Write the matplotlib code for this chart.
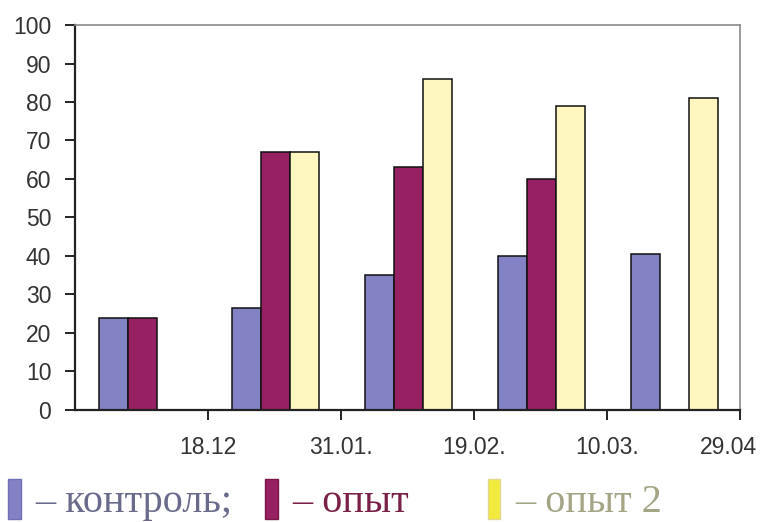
import numpy as np
import matplotlib.pyplot as plt
import matplotlib.transforms as mtransforms
from matplotlib.patches import Rectangle

# данные
dates = ['18.12', '31.01.', '19.02.', '10.03.', '29.04']
control = [24, 26.5, 35, 40, 40.5]
opyt = [24, 67, 63, 60, np.nan]
opyt2 = [np.nan, 67, 86, 79, 81]

c_control = '#8282c4'
c_opyt = '#962062'
c_opyt2 = '#fff6c0'

fig = plt.figure(figsize=(7.65, 5.22), dpi=100)
ax = fig.add_axes([0.098, 0.2146, 0.869, 0.7375])

x = np.arange(len(dates)) + 0.5
w = 0.218
for k, (vals, col) in enumerate([(control, c_control), (opyt, c_opyt), (opyt2, c_opyt2)]):
    ax.bar(x + (k - 1) * w + 0.01, vals, width=w, color=col, edgecolor='#111111', linewidth=1.1)

ax.set_xlim(0, len(dates))
ax.set_ylim(0, 100)
ax.set_yticks(range(0, 101, 10))
ax.set_xticks(np.arange(1, len(dates) + 1))
ax.set_xticklabels(dates)

for s in ['left', 'bottom']:
    ax.spines[s].set_color('#222222')
    ax.spines[s].set_linewidth(1.6)
for s in ['top', 'right']:
    ax.spines[s].set_color('#8a8a8a')
    ax.spines[s].set_linewidth(1.2)

ax.tick_params(axis='both', direction='out', length=7, width=1.4, color='#222222',
               labelsize=16.5, labelcolor='#333333')
ax.tick_params(axis='y', pad=10)
ax.tick_params(axis='x', pad=12)
for lab in ax.get_xticklabels() + ax.get_yticklabels():
    lab.set_family('Liberation Sans')

# последняя подпись чуть левее, чтобы не обрезалась
last = ax.get_xticklabels()[-1]
last.set_transform(last.get_transform() + mtransforms.ScaledTranslation(-8 / 72, 0, fig.dpi_scale_trans))

# легенда под графиком
items = [
    (0.011, c_control, '#7070b8', '– контроль;', '#6a6a8c'),
    (0.347, c_opyt, '#7a1548', '– опыт', '#7a2048'),
    (0.638, '#f2ea3c', '#e0d890', '– опыт 2', '#a4a486'),
]
for x0, fc, ec, txt, tc in items:
    fig.add_artist(Rectangle((x0, 0.005), 0.016, 0.078, transform=fig.transFigure,
                             facecolor=fc, edgecolor=ec, linewidth=1))
    fig.text(x0 + 0.035, 0.02, txt, color=tc, fontsize=29,
             family='Liberation Serif', va='baseline', ha='left')

fig.savefig('out.png', dpi=100)
